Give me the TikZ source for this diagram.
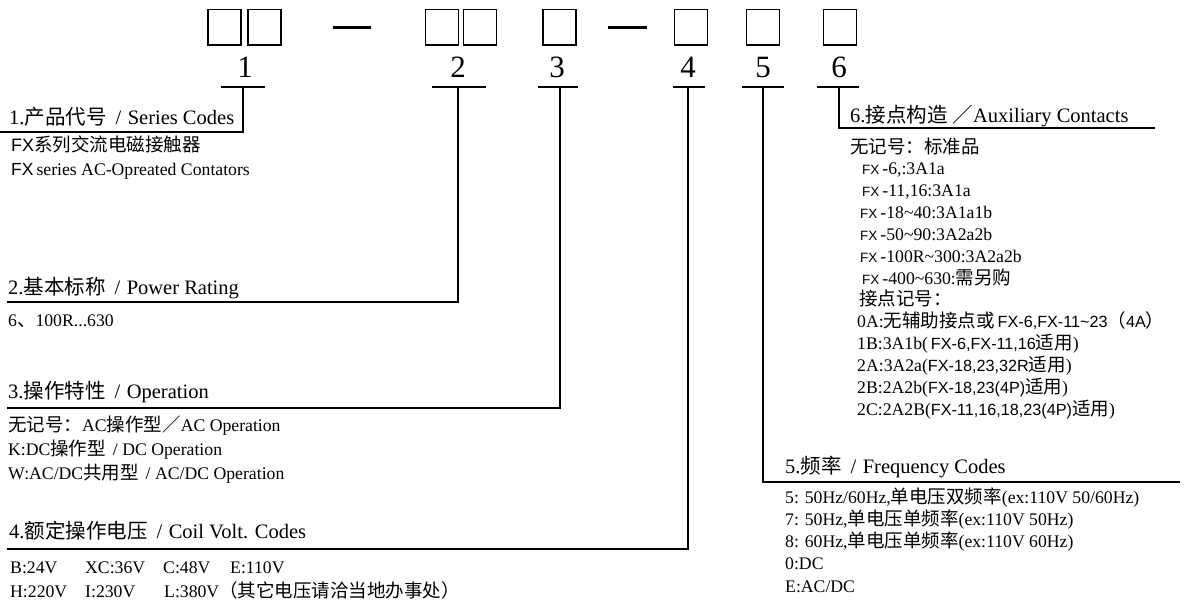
\documentclass[tikz,border=0pt]{standalone}
\usepackage{fontspec}
\setmainfont{Liberation Serif}
\newfontfamily\cjkh{Noto Sans CJK SC}
\newfontfamily\cjkb{Noto Sans CJK SC}[Scale=1.045]
\newfontfamily\arialf{Liberation Sans}
\newcommand\zh[1]{{\cjkh #1}}
\newcommand\zb[1]{{\cjkb #1}}
\newcommand\sfs[2]{{\arialf\fontsize{#1}{#1}\selectfont #2}}
\newcommand\hsep{\hspace{9pt}/\hspace{6.5pt}}
\begin{document}
\begin{tikzpicture}[x=1pt,y=-1pt,
  keybox/.style={draw, line width=1.5pt, minimum width=33pt, minimum height=35.5pt, inner sep=0pt},
  dashbar/.style={line width=3pt},
  numlbl/.style={font=\fontsize{31}{31}\selectfont, anchor=base, inner sep=0pt},
  headtxt/.style={font=\fontsize{20.5}{24}\selectfont, anchor=base west, inner sep=0pt},
  bodytxt/.style={font=\fontsize{17.7}{20}\selectfont, anchor=base west, inner sep=0pt},
  tickbar/.style={line width=1.5pt},
  leader/.style={line width=1.5pt}
]
\fill[white] (0,0) rectangle (1184,606);
\useasboundingbox (0,0) rectangle (1184,606);

% code boxes
\node[keybox] (b1) at (224.5,27.25) {};
\node[keybox] (b2) at (264.5,27.25) {};
\node[keybox] (b3) at (442,27.25) {};
\node[keybox] (b4) at (480,27.25) {};
\node[keybox] (b5) at (559.5,27.25) {};
\node[keybox] (b6) at (691,27.25) {};
\node[keybox] (b7) at (763,27.25) {};
\node[keybox] (b8) at (840,27.25) {};
\coordinate (d1a) at (333,27); \coordinate (d1b) at (371,27);
\coordinate (d2a) at (608,27); \coordinate (d2b) at (647,27);
\draw[dashbar] (d1a) -- (d1b);
\draw[dashbar] (d2a) -- (d2b);

% numbers
\node[numlbl] (n1) at (245,77) {1};
\node[numlbl] (n2) at (458,77) {2};
\node[numlbl] (n3) at (557,77) {3};
\node[numlbl] (n4) at (688,77) {4};
\node[numlbl] (n5) at (763,77) {5};
\node[numlbl] (n6) at (839,77) {6};

% tick bars
\coordinate (t1l) at (221,87); \coordinate (t1r) at (265,87); \coordinate (t1) at (243,87);
\coordinate (t2l) at (432,87); \coordinate (t2r) at (486,87); \coordinate (t2) at (458,87);
\coordinate (t3l) at (538,87); \coordinate (t3r) at (578,87); \coordinate (t3) at (560,87);
\coordinate (t4l) at (673,87); \coordinate (t4r) at (705,87); \coordinate (t4) at (688,87);
\coordinate (t5l) at (742,87); \coordinate (t5r) at (784,87); \coordinate (t5) at (763,87);
\coordinate (t6l) at (817,87); \coordinate (t6r) at (859,87); \coordinate (t6) at (839,87);
\foreach \i in {1,...,6} { \draw[tickbar] (t\i l) -- (t\i r); }

% underline ends
\coordinate (u1) at (0,132);
\coordinate (u2) at (7,302);
\coordinate (u3) at (7,408);
\coordinate (u4) at (7,549);
\coordinate (u5) at (1180,482);
\coordinate (u6) at (1155,128);
\draw[leader] (u1) -| (t1);
\draw[leader] (u2) -| (t2);
\draw[leader] (u3) -| (t3);
\draw[leader] (u4) -| (t4);
\draw[leader] (u5) -| (t5);
\draw[leader] (u6) -| (t6);

% section 1
\node[headtxt] (h1) at (9,124) {1.\zh{产品代号}\hsep Series Codes};
\node[bodytxt] (s1a) at (11,151) {\sfs{18}{FX}\zb{系列交流电磁接触器}};
\node[bodytxt] (s1b) at (11,175) {\sfs{17.5}{FX}\,series AC-Opreated Contators};

% section 2
\node[headtxt] (h2) at (8,294) {2.\zh{基本标称}\hsep Power Rating};
\node[bodytxt] (s2a) at (8,326) {6\zb{、}100R...630};

% section 3
\node[headtxt] (h3) at (8,398) {3.\zh{操作特性}\hsep Operation};
\node[bodytxt] (s3a) at (8,431) {\zb{无记号：}AC\zb{操作型／}AC Operation};
\node[bodytxt] (s3b) at (8,455) {K:DC\zb{操作型}\hspace{7pt}/ DC Operation};
\node[bodytxt] (s3c) at (8,479) {W:AC/DC\zb{共用型}\hspace{7pt}/ AC/DC Operation};

% section 4
\node[headtxt] (h4) at (9,538) {4.\zh{额定操作电压}\hsep Coil Volt. Codes};
\node[bodytxt] (s4a) at (10,573) {B:24V};
\node[bodytxt] (s4b) at (85,573) {XC:36V};
\node[bodytxt] (s4c) at (163,573) {C:48V};
\node[bodytxt] (s4d) at (230,573) {E:110V};
\node[bodytxt] (s4e) at (10,597) {H:220V};
\node[bodytxt] (s4f) at (85,597) {I:230V};
\node[bodytxt] (s4g) at (164,597) {L:380V\zb{（其它电压请洽当地办事处）}};

% section 5
\node[headtxt] (h5) at (785,473) {5.\zh{频率}\hsep Frequency Codes};
\node[bodytxt] (s5a) at (785,503) {5: 50Hz/60Hz,\zb{单电压双频率}(ex:110V 50/60Hz)};
\node[bodytxt] (s5b) at (785,525.25) {7: 50Hz,\zb{单电压单频率}(ex:110V 50Hz)};
\node[bodytxt] (s5c) at (785,547.5) {8: 60Hz,\zb{单电压单频率}(ex:110V 60Hz)};
\node[bodytxt] (s5d) at (785,569.75) {0:DC};
\node[bodytxt] (s5e) at (785,592) {E:AC/DC};

% section 6
\node[headtxt] (h6) at (850,122) {6.\zh{接点构造}\hspace{5pt}\zh{／}Auxiliary Contacts};
\node[bodytxt] (s6a) at (850,153) {\zb{无记号：标准品}};
\node[bodytxt] (s6b) at (862,174.8) {\sfs{13.5}{FX}\,-6,:3A1a};
\node[bodytxt] (s6c) at (862,196.7) {\sfs{13.5}{FX}\,-11,16:3A1a};
\node[bodytxt] (s6d) at (860,218.5) {\sfs{13.5}{FX}\,-18\textasciitilde 40:3A1a1b};
\node[bodytxt] (s6e) at (860,240.3) {\sfs{13.5}{FX}\,-50\textasciitilde 90:3A2a2b};
\node[bodytxt] (s6f) at (860,262.2) {\sfs{13.5}{FX}\,-100R\textasciitilde 300:3A2a2b};
\node[bodytxt] (s6g) at (862,284) {\sfs{13.5}{FX}\,-400\textasciitilde 630:\zb{需另购}};
\node[bodytxt] (s6h) at (859,305.8) {\zb{接点记号：}};
\node[bodytxt] (s6i) at (857,327.7) {0A:\zb{无辅助接点或}\,\sfs{16.2}{FX-6,FX-11\textasciitilde 23}\zb{（}\sfs{16.2}{4A}\zb{）}};
\node[bodytxt] (s6j) at (857,349.5) {1B:3A1b(\,\sfs{16.2}{FX-6,FX-11,16}\zb{适用})};
\node[bodytxt] (s6k) at (857,371.3) {2A:3A2a(\sfs{16.2}{FX-18,23,32R}\zb{适用})};
\node[bodytxt] (s6l) at (857,393.2) {2B:2A2b(\sfs{16.2}{FX-18,23(4P)}\zb{适用})};
\node[bodytxt] (s6m) at (857,415) {2C:2A2B(\sfs{16.2}{FX-11,16,18,23(4P)}\zb{适用})};
\end{tikzpicture}
\end{document}
